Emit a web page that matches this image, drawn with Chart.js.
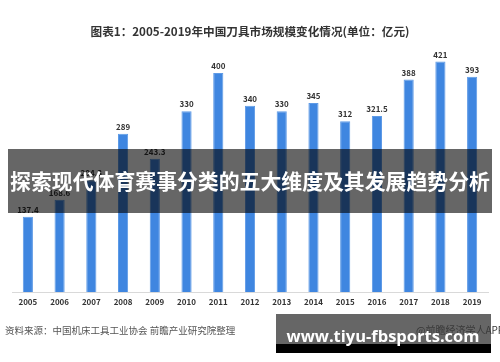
<!DOCTYPE html>
<html>
<head>
<meta charset="utf-8">
<script src="https://cdn.jsdelivr.net/npm/chart.js@4"></script>
<style>
  html, body { margin: 0; padding: 0; background: #fff; }
  #chart { display: block; }
</style>
</head>
<body>
<canvas id="chart" width="500" height="362"></canvas>
<script>
const years = ["2005", "2006", "2007", "2008", "2009", "2010", "2011", "2012",
               "2013", "2014", "2015", "2016", "2017", "2018", "2019"];
const marketSize = [137.4, 168.6, 204.3, 289, 243.3, 330, 400, 340,
                    330, 345, 312, 321.5, 388, 421, 393];
const titleText = "图表1：2005-2019年中国刀具市场规模变化情况(单位：亿元)";
const overlayText = "探索现代体育赛事分类的五大维度及其发展趋势分析";
const sourceText = "资料来源：中国机床工具工业协会 前瞻产业研究院整理";
const creditText = "@前瞻经济学人APP";
const siteText = "www.tiyu-fbsports.com";

const CJK = '"Noto Sans CJK SC", "Noto Sans", sans-serif';

// 按目标宽度缩放字号
function fitFont(c, text, weight, family, width) {
    c.font = weight + " 20px " + family;
    const size = 20 * width / c.measureText(text).width;
    c.font = weight + " " + size.toFixed(2) + "px " + family;
}

// 柱顶数值
const valueLabels = {
    id: "valueLabels",
    afterDatasetsDraw(chart) {
        const c = chart.ctx;
        const meta = chart.getDatasetMeta(0);
        c.save();
        c.font = "bold 8px " + CJK;
        c.fillStyle = "#333";
        c.textAlign = "center";
        c.textBaseline = "bottom";
        meta.data.forEach((bar, i) => {
            c.fillText(String(marketSize[i]), bar.x, bar.y - 3);
        });
        c.restore();
    }
};

// 标题、遮罩横幅、底部文字
const decorations = {
    id: "decorations",
    afterDraw(chart) {
        const c = chart.ctx;
        c.save();

        c.fillStyle = "#333";
        fitFont(c, titleText, "bold", CJK, 319);
        c.textAlign = "center";
        c.textBaseline = "middle";
        c.fillText(titleText, 250, 32);

        c.fillStyle = "rgba(0,0,0,0.6)";
        c.fillRect(8, 149, 484, 64);
        c.fillStyle = "#fff";
        fitFont(c, overlayText, "bold", CJK, 480);
        c.fillText(overlayText, 250, 181);

        c.textAlign = "left";
        c.fillStyle = "#555";
        c.font = "9.5px " + CJK;
        c.fillText(sourceText, 5, 330);

        c.fillStyle = "#666";
        c.fillRect(276, 314, 215, 30);
        c.fillStyle = "#000";
        c.fillRect(276, 344, 215, 9);

        c.fillStyle = "#3a3a3a";
        c.font = "10px " + CJK;
        c.fillText(creditText, 416, 330);

        c.fillStyle = "#fff";
        fitFont(c, siteText, "bold", '"Open Sans", sans-serif', 193);
        c.textAlign = "center";
        c.textBaseline = "alphabetic";
        c.fillText(siteText, 383, 342);
        c.restore();
    }
};

new Chart(document.getElementById("chart").getContext("2d"), {
    type: "bar",
    data: {
        labels: years,
        datasets: [{
            label: "市场规模",
            data: marketSize,
            backgroundColor: "#3f86e0",
            borderColor: "#5e9ae6",
            borderWidth: 1,
            categoryPercentage: 1,
            barPercentage: 0.32
        }]
    },
    options: {
        responsive: false,
        animation: false,
        layout: { padding: { top: 50, left: 12, right: 12, bottom: 50 } },
        plugins: {
            legend: { display: false },
            tooltip: { enabled: false },
            title: { display: false }
        },
        scales: {
            x: {
                grid: { display: true, color: "transparent", drawTicks: false },
                border: { display: true, color: "#d9d9d9", width: 1 },
                ticks: {
                    color: "#333",
                    font: { size: 8, weight: "bold", family: CJK },
                    padding: 5,
                    maxRotation: 0
                },
                afterFit(scale) { scale.height = 20; }
            },
            y: {
                display: false,
                min: 0,
                max: 442
            }
        }
    },
    plugins: [valueLabels, decorations]
});
</script>
</body>
</html>
